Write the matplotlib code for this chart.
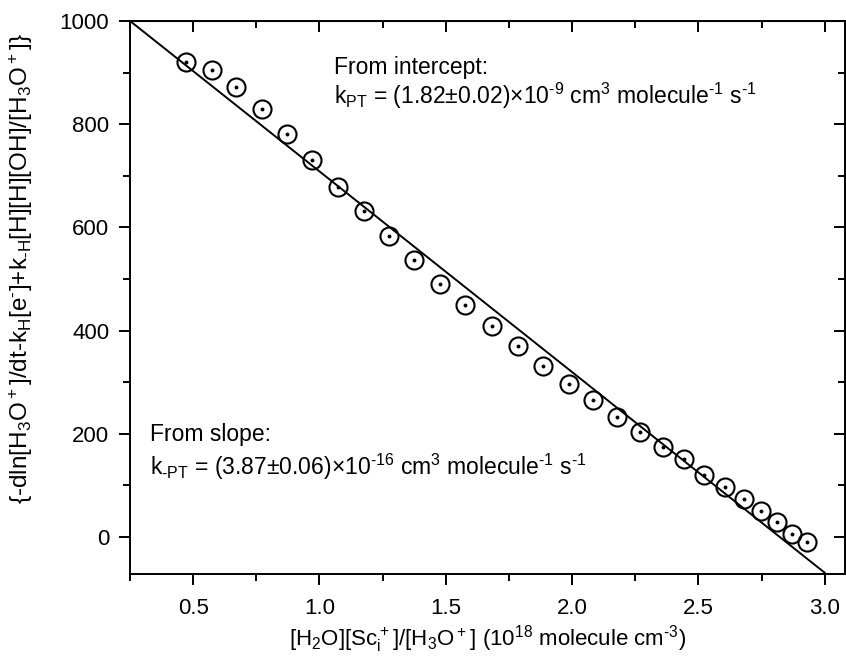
import matplotlib
matplotlib.use("Agg")
import matplotlib.pyplot as plt
import numpy as np
from matplotlib.ticker import MultipleLocator

plt.rcParams['font.family'] = ['Liberation Sans', 'DejaVu Sans']
plt.rcParams['mathtext.default'] = 'regular'

# data (x in 1e18 molecule cm^-3)
x_data = [0.471, 0.574, 0.669, 0.772, 0.871, 0.969, 1.072, 1.175, 1.277, 1.376,
          1.479, 1.578, 1.681, 1.784, 1.886, 1.989, 2.084, 2.179, 2.270, 2.361,
          2.444, 2.523, 2.606, 2.681, 2.748, 2.811, 2.870, 2.930]
y_data = [920, 905, 872, 829, 781, 730, 678, 631, 583, 536,
          491, 449, 408, 371, 332, 297, 266, 233, 204, 175,
          150, 120, 97, 74, 50, 29, 6, -10]

fit_intercept = 1097.5
fit_slope = -389.0
fit_x = [0.25, 3.0]

HY = '\u2010'  # short hyphen as in the reference

fig = plt.figure(figsize=(8.46, 6.59), dpi=100)
ax = fig.add_axes([0.1537, 0.129, 0.845, 0.839])

fx = np.array(fit_x)
ax.plot(fx, fit_intercept + fit_slope * fx, color='black', lw=1.4, zorder=2)
ax.plot(x_data, y_data, linestyle='none', marker='o', markersize=13,
        markerfacecolor='none', markeredgecolor='black', markeredgewidth=1.5, zorder=3)
ax.plot(x_data, y_data, linestyle='none', marker='o', markersize=1.8,
        color='black', zorder=4)

ax.set_xlim(0.25, 3.08)
ax.set_ylim(-72, 1000)

ax.xaxis.set_major_locator(MultipleLocator(0.5))
ax.xaxis.set_minor_locator(MultipleLocator(0.25))
ax.yaxis.set_major_locator(MultipleLocator(200))
ax.yaxis.set_minor_locator(MultipleLocator(100))
ax.set_xticks([0.5, 1.0, 1.5, 2.0, 2.5, 3.0])
ax.set_xticklabels(['0.5', '1.0', '1.5', '2.0', '2.5', '3.0'])

for s in ax.spines.values():
    s.set_linewidth(1.4)

ax.tick_params(which='both', direction='out', width=1.4, labelsize=16,
               top=False, right=False)
ax.tick_params(which='major', length=8)
ax.tick_params(which='minor', length=5)
ax.tick_params(axis='y', pad=7)
ax.tick_params(axis='x', pad=9)

axt = ax.secondary_xaxis('top')
axt.xaxis.set_major_locator(MultipleLocator(0.5))
axt.xaxis.set_minor_locator(MultipleLocator(0.25))
axt.tick_params(which='both', direction='in', width=1.4, labeltop=False)
axt.tick_params(which='major', length=8)
axt.tick_params(which='minor', length=5)
axr = ax.secondary_yaxis('right')
axr.yaxis.set_major_locator(MultipleLocator(200))
axr.yaxis.set_minor_locator(MultipleLocator(100))
axr.tick_params(which='both', direction='in', width=1.4, labelright=False)
axr.tick_params(which='major', length=8)
axr.tick_params(which='minor', length=5)

ax.set_xlabel('[H$_2$O][Sc$_i^+$]/[H$_3$O$^+$] (10$^{18}$ molecule cm$^{' + HY + '3}$)',
              fontsize=16, labelpad=3)
ax.set_ylabel('{' + HY + 'dln[H$_3$O$^+$]/dt' + HY + 'k$_H$[e$^' + HY + '$]+k$_{' + HY
              + 'H}$[H][H][OH]/[H$_3$O$^+$]}',
              fontsize=17.5)
ax.yaxis.set_label_coords(-0.133, 0.553)

ax.text(0.285, 0.905, 'From intercept:', transform=ax.transAxes, fontsize=16.5)
ax.text(0.285, 0.85, 'k$_{PT}$ = (1.82±0.02)×10$^{' + HY + '9}$ cm$^3$ molecule$^{' + HY
        + '1}$ s$^{' + HY + '1}$', transform=ax.transAxes, fontsize=16.5)
ax.text(0.028, 0.24, 'From slope:', transform=ax.transAxes, fontsize=16.5)
ax.text(0.028, 0.18, 'k$_{' + HY + 'PT}$ = (3.87±0.06)×10$^{' + HY + '16}$ cm$^3$ molecule$^{'
        + HY + '1}$ s$^{' + HY + '1}$', transform=ax.transAxes, fontsize=16.5)

fig.savefig('out.png', dpi=100)
